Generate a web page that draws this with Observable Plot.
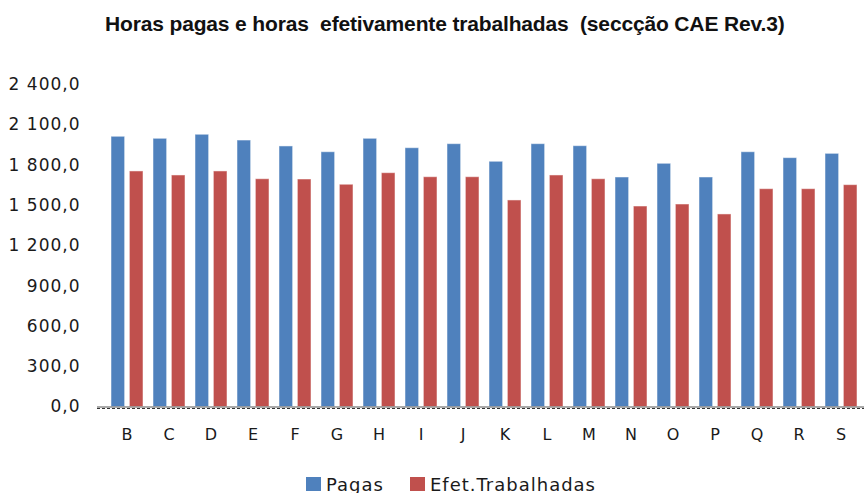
<!DOCTYPE html>
<html>
<head>
<meta charset="utf-8">
<script src="https://cdn.jsdelivr.net/npm/d3@7"></script>
<script src="https://cdn.jsdelivr.net/npm/@observablehq/plot@0.6"></script>
<style>
  html, body { margin: 0; padding: 0; background: #fff; }
  #wrap { width: 864px; height: 493px; overflow: hidden; position: relative; }
  #title {
    height: 60px; box-sizing: border-box; padding-top: 12px; padding-left: 105px;
    font-family: "Liberation Sans", Arial, sans-serif; font-weight: bold; font-size: 21px;
    line-height: 24px; color: #111; white-space: pre; letter-spacing: -0.15px;
  }
  #legend {
    display: flex; align-items: center; height: 18px; margin-top: 10px; padding-left: 306px;
    font-family: "DejaVu Sans", sans-serif; font-size: 18px; letter-spacing: 1px; color: #1a1a1a;
  }
  .item { display: flex; align-items: center; margin-right: 26px; }
  .sw { display: inline-block; width: 15px; height: 14px; margin-right: 5px; }
  svg { display: block; }
</style>
</head>
<body>
<div id="wrap">
  <div id="title"></div>
  <div id="chart"></div>
  <div id="legend"></div>
</div>
<script>
const titleText = "Horas pagas e horas  efetivamente trabalhadas  (seccção CAE Rev.3)";
const cats = ["B","C","D","E","F","G","H","I","J","K","L","M","N","O","P","Q","R","S"];
const pagas = [2011,1996,2026,1983,1939,1896,1996,1926,1956,1825,1956,1941,1708,1810,1708,1896,1852,1884];
const efetivas = [1753,1723,1753,1695,1693,1654,1740,1710,1710,1537,1723,1695,1492,1507,1433,1621,1621,1651];
const series = ["Pagas", "Efet.Trabalhadas"];
const colors = ["#4F81BD", "#C0504D"];
const yTicks = [0, 300, 600, 900, 1200, 1500, 1800, 2100, 2400];

const data = [];
cats.forEach((c, i) => {
  data.push({cat: c, serie: series[0], value: pagas[i]});
  data.push({cat: c, serie: series[1], value: efetivas[i]});
});

const fmt = d3.formatLocale({decimal: ",", thousands: " ", grouping: [3], currency: ["", ""]}).format(",.1f");

document.getElementById("title").textContent = titleText;

const step = (870 - 98.5) / cats.length;
const outer = 5, barW = 14.5;
const inner = step - outer - barW;

const chart = Plot.plot({
  width: 864,
  height: 405,
  marginLeft: 97,
  marginRight: 0,
  marginTop: 24,
  marginBottom: 58.5,
  style: {fontFamily: "DejaVu Sans, sans-serif", fontSize: "17px", color: "#1a1a1a", background: "white", letterSpacing: "1px", overflow: "visible"},
  x: {domain: cats, range: [98.5, 870], padding: 0},
  y: {domain: [0, 2400]},
  color: {domain: series, range: colors},
  marks: [
    Plot.axisY({ticks: yTicks, tickFormat: fmt, tickSize: 0, tickPadding: 17, fontSize: 17, label: null, fill: "#1a1a1a"}),
    Plot.axisX({tickSize: 0, tickPadding: 22, fontSize: 16, label: null, fill: "#1a1a1a"}),
    Plot.barY(data.filter(d => d.serie === series[0]), {x: "cat", y: "value", fill: "serie", insetLeft: outer, insetRight: inner, stroke: "white", strokeOpacity: 0.5, strokeWidth: 1}),
    Plot.barY(data.filter(d => d.serie === series[1]), {x: "cat", y: "value", fill: "serie", insetLeft: inner, insetRight: outer, stroke: "white", strokeOpacity: 0.5, strokeWidth: 1}),
    Plot.ruleY([0], {stroke: "#555", strokeWidth: 1}),
    Plot.ruleY([0], {stroke: "#333", strokeWidth: 1.2, dy: 1.5, strokeDasharray: "3,2"})
  ]
});
document.getElementById("chart").appendChild(chart);

const legend = document.getElementById("legend");
series.forEach((s, i) => {
  const item = document.createElement("div");
  item.className = "item";
  const sw = document.createElement("span");
  sw.className = "sw";
  sw.style.background = colors[i];
  const t = document.createElement("span");
  t.textContent = s;
  item.appendChild(sw);
  item.appendChild(t);
  legend.appendChild(item);
});
</script>
</body>
</html>
